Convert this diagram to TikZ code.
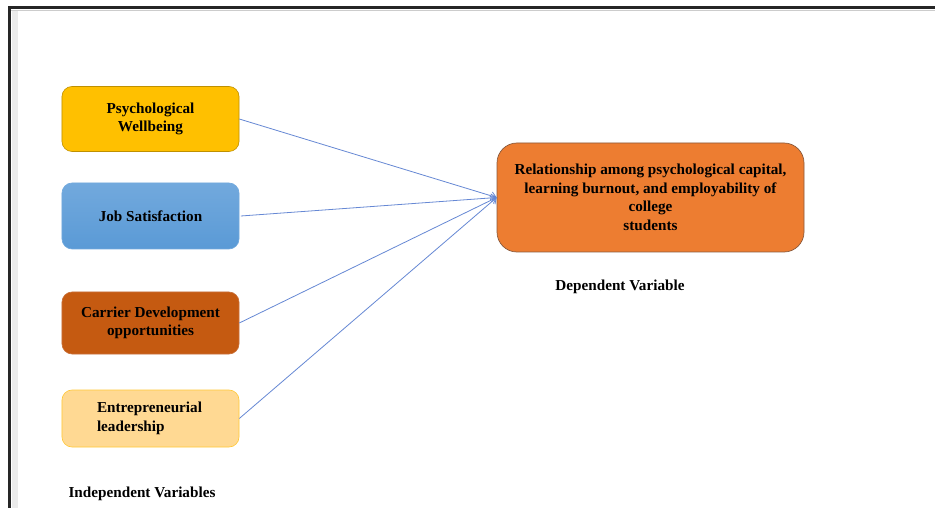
\documentclass[tikz,border=0pt]{standalone}
\usepackage{fontspec}
\setmainfont{Liberation Serif}
\usetikzlibrary{arrows.meta}
\definecolor{pwfill}{HTML}{FFC000}
\definecolor{pwdraw}{HTML}{BF9000}
\definecolor{jstop}{HTML}{72A9DD}
\definecolor{jsbot}{HTML}{5A9AD6}
\definecolor{cdfill}{HTML}{C55A11}
\definecolor{cddraw}{HTML}{C8703A}
\definecolor{elfill}{HTML}{FFD993}
\definecolor{eldraw}{HTML}{FFC837}
\definecolor{depfill}{HTML}{ED7D31}
\definecolor{depdraw}{HTML}{8A5A3C}
\definecolor{arrowc}{HTML}{6688D4}
\definecolor{stripc}{HTML}{EBEBEB}
\begin{document}
\begin{tikzpicture}[x=1bp,y=-1bp,
  txt/.style={font=\fontsize{15.2bp}{18.6bp}\selectfont\bfseries, text=black},
  ivbox/.style={txt, rounded corners=10bp, minimum width=177bp, align=center, inner sep=0pt, line width=0.6bp},
  link/.style={draw=arrowc, line width=0.8bp, -{Straight Barb[length=5bp,width=8bp]}}
]
\useasboundingbox (0,0) rectangle (935,508);
\fill[white] (0,0) rectangle (935,508);
% frame
\fill[stripc] (12,10) rectangle (18,508);
\draw[black!85, line width=3bp] (8,8) -- (935,8);
\draw[black!85, line width=2.5bp] (9.25,6.5) -- (9.25,508);
\draw[gray!40, line width=0.8bp] (11,10.5) -- (935,10.5);
% boxes
\node[ivbox, fill=pwfill, draw=pwdraw, minimum height=65bp] (pw) at (150.5,119) {Psychological\\Wellbeing};
\node[ivbox, top color=jstop, bottom color=jsbot, draw=jstop, minimum height=66bp] (js) at (150.5,216) {Job Satisfaction};
\node[ivbox, fill=cdfill, draw=cddraw, minimum height=62bp] (cd) at (150.5,323) {Carrier Development\\opportunities};
\node[ivbox, fill=elfill, draw=eldraw, minimum height=57bp, align=left, text width=107bp] (el) at (150.5,418.5) {Entrepreneurial\\leadership};
\node[txt, fill=depfill, draw=depdraw, rounded corners=20bp, minimum width=307bp, minimum height=109bp, align=center, inner sep=0pt, line width=0.7bp] (dep) at (650.5,197.5)
  {Relationship among psychological capital,\\learning burnout, and employability of\\college\\students};
% labels
\node[txt] (dv) at (620,287) {Dependent Variable};
\node[txt] (iv) at (142,494) {Independent Variables};
% connectors
\draw[link] (pw.east) -- (dep.west);
\draw[link] ([xshift=1.5bp]js.east) -- (dep.west);
\draw[link] (cd.east) -- (dep.west);
\draw[link] (el.east -| pw.east) -- (dep.west);
\end{tikzpicture}
\end{document}
